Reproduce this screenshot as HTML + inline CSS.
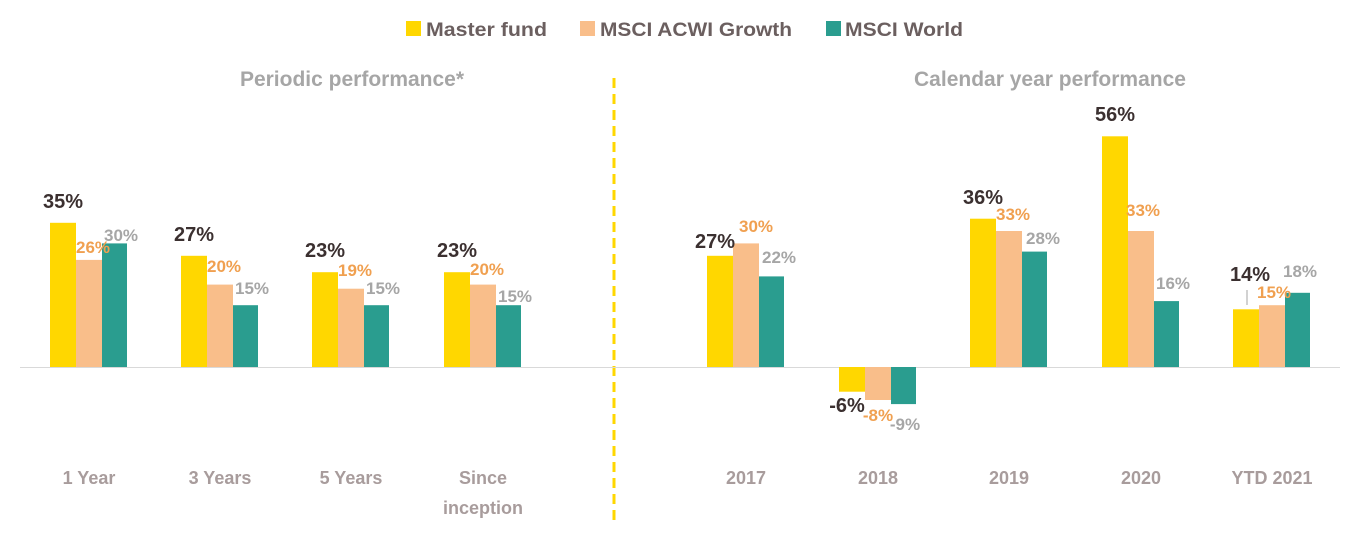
<!DOCTYPE html>
<html><head><meta charset="utf-8"><style>
html,body{margin:0;padding:0;background:#fff;}
svg text{font-family:"Liberation Sans",Arial,sans-serif;font-weight:bold;}
</style></head><body>
<svg width="1355" height="532" viewBox="0 0 1355 532" xmlns="http://www.w3.org/2000/svg">
<rect x="406" y="21" width="15" height="15" fill="#FFD700"/>
<text x="426" y="36" font-size="19" fill="#6b5f5f" textLength="121" lengthAdjust="spacingAndGlyphs">Master fund</text>
<rect x="580" y="21" width="15" height="15" fill="#F9BE8A"/>
<text x="600" y="36" font-size="19" fill="#6b5f5f" textLength="192" lengthAdjust="spacingAndGlyphs">MSCI ACWI Growth</text>
<rect x="826" y="21" width="15" height="15" fill="#2A9D8F"/>
<text x="845" y="36" font-size="19" fill="#6b5f5f" textLength="118" lengthAdjust="spacingAndGlyphs">MSCI World</text>
<text x="352" y="86" font-size="21" fill="#A6A6A6" text-anchor="middle">Periodic performance*</text>
<text x="1050" y="86" font-size="21" fill="#A6A6A6" text-anchor="middle">Calendar year performance</text>
<line x1="614" y1="78" x2="614" y2="522" stroke="#FFD700" stroke-width="3" stroke-dasharray="10,6"/>
<line x1="20" y1="367.5" x2="1340" y2="367.5" stroke="#d9d9d9" stroke-width="1"/>

<g>
<rect x="50" y="222.8" width="26" height="144.2" fill="#FFD700"/><rect x="76" y="259.9" width="26" height="107.1" fill="#F9BE8A"/><rect x="102" y="243.4" width="25" height="123.6" fill="#2A9D8F"/>
<rect x="181" y="255.8" width="26" height="111.2" fill="#FFD700"/><rect x="207" y="284.6" width="26" height="82.4" fill="#F9BE8A"/><rect x="233" y="305.2" width="25" height="61.8" fill="#2A9D8F"/>
<rect x="312" y="272.2" width="26" height="94.8" fill="#FFD700"/><rect x="338" y="288.7" width="26" height="78.3" fill="#F9BE8A"/><rect x="364" y="305.2" width="25" height="61.8" fill="#2A9D8F"/>
<rect x="444" y="272.2" width="26" height="94.8" fill="#FFD700"/><rect x="470" y="284.6" width="26" height="82.4" fill="#F9BE8A"/><rect x="496" y="305.2" width="25" height="61.8" fill="#2A9D8F"/>
<rect x="707" y="255.8" width="26" height="111.2" fill="#FFD700"/><rect x="733" y="243.4" width="26" height="123.6" fill="#F9BE8A"/><rect x="759" y="276.4" width="25" height="90.6" fill="#2A9D8F"/>
<rect x="839" y="367" width="26" height="24.7" fill="#FFD700"/><rect x="865" y="367" width="26" height="33" fill="#F9BE8A"/><rect x="891" y="367" width="25" height="37.1" fill="#2A9D8F"/>
<rect x="970" y="218.7" width="26" height="148.3" fill="#FFD700"/><rect x="996" y="231" width="26" height="136" fill="#F9BE8A"/><rect x="1022" y="251.6" width="25" height="115.4" fill="#2A9D8F"/>
<rect x="1102" y="136.3" width="26" height="230.7" fill="#FFD700"/><rect x="1128" y="231" width="26" height="136" fill="#F9BE8A"/><rect x="1154" y="301.1" width="25" height="65.9" fill="#2A9D8F"/>
<rect x="1233" y="309.3" width="26" height="57.7" fill="#FFD700"/><rect x="1259" y="305.2" width="26" height="61.8" fill="#F9BE8A"/><rect x="1285" y="292.8" width="25" height="74.2" fill="#2A9D8F"/>
</g>

<g font-size="20" fill="#3b3030" text-anchor="middle">
<text x="63" y="208">35%</text><text x="194" y="241">27%</text><text x="325" y="257">23%</text><text x="457" y="257">23%</text>
<text x="715" y="248">27%</text><text x="847" y="412">-6%</text><text x="983" y="204">36%</text><text x="1115" y="121">56%</text><text x="1250" y="281">14%</text>
</g>
<g font-size="17" fill="#F0A050" text-anchor="middle">
<text x="93" y="253">26%</text><text x="224" y="272">20%</text><text x="355" y="276">19%</text><text x="487" y="275">20%</text>
<text x="756" y="232">30%</text><text x="878" y="421">-8%</text><text x="1013" y="220">33%</text><text x="1143" y="216">33%</text><text x="1274" y="298">15%</text>
</g>
<g font-size="17" fill="#A6A6A6" text-anchor="middle">
<text x="121" y="241">30%</text><text x="252" y="294">15%</text><text x="383" y="294">15%</text><text x="515" y="302">15%</text>
<text x="779" y="263">22%</text><text x="905" y="430">-9%</text><text x="1043" y="244">28%</text><text x="1173" y="289">16%</text><text x="1300" y="277">18%</text>
</g>

<g font-size="18" text-anchor="middle" fill="#A89C9C">
<text x="89" y="484">1 Year</text>
<text x="220" y="484">3 Years</text>
<text x="351" y="484">5 Years</text>
<text x="483" y="484">Since</text>
<text x="483" y="514">inception</text>
<text x="746" y="484">2017</text>
<text x="878" y="484">2018</text>
<text x="1009" y="484">2019</text>
<text x="1141" y="484">2020</text>
<text x="1272" y="484">YTD 2021</text>
</g>
<line x1="1247" y1="290" x2="1247" y2="305" stroke="#A6A6A6" stroke-width="1"/>
</svg>
</body></html>
